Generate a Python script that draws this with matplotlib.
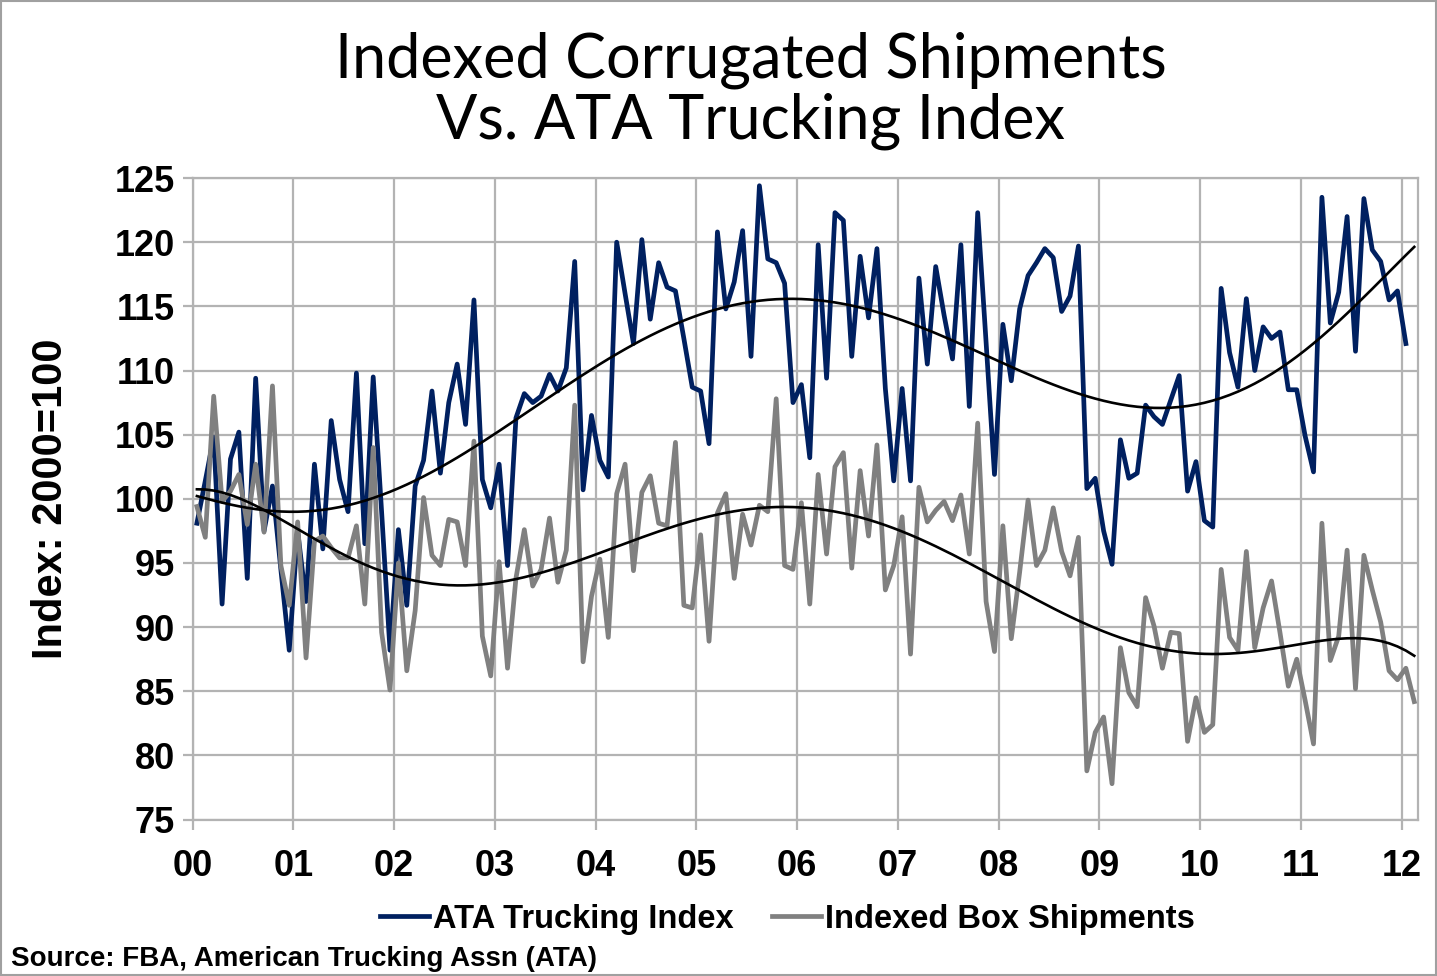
import numpy as np
import matplotlib
matplotlib.use("Agg")
import matplotlib.pyplot as plt
from matplotlib.lines import Line2D
from matplotlib.patches import Rectangle

# monthly index values, Jan 2000 onward (2000=100)
ata_trucking = [
    98.1, 101.4, 104.8, 91.8, 103.1, 105.2, 93.8, 109.4, 97.5, 101.0, 94.5, 88.2,
    97.5, 92.0, 102.7, 96.1, 106.1, 101.5, 99.0, 109.8, 96.5, 109.5, 99.0, 88.2,
    97.6, 91.7, 101.0, 103.0, 108.4, 102.0, 107.5, 110.5, 105.8, 115.5, 101.5, 99.3,
    102.7, 94.8, 106.3, 108.2, 107.5, 108.0, 109.7, 108.4, 110.2, 118.5, 100.7, 106.5,
    103.0, 101.7, 120.0, 116.0, 112.1, 120.2, 114.0, 118.4, 116.5, 116.2, 112.5, 108.7,
    108.4, 104.3, 120.8, 114.8, 116.9, 120.9, 111.1, 124.4, 118.7, 118.4, 116.8, 107.5,
    108.9, 103.2, 119.8, 109.4, 122.3, 121.7, 111.1, 118.9, 114.1, 119.5, 108.6, 101.4,
    108.6, 101.4, 117.2, 110.5, 118.1, 114.3, 110.9, 119.8, 107.2, 122.3, 112.2, 101.9,
    113.6, 109.2, 114.8, 117.4, 118.4, 119.5, 118.8, 114.6, 115.8, 119.7, 100.8, 101.6,
    97.5, 94.9, 104.6, 101.6, 102.0, 107.3, 106.4, 105.8, 107.7, 109.6, 100.6, 102.9,
    98.3, 97.8, 116.4, 111.4, 108.7, 115.6, 110.0, 113.4, 112.5, 113.0, 108.5, 108.5,
    104.9, 102.1, 123.5, 113.7, 116.1, 122.0, 111.5, 123.4, 119.4, 118.5, 115.5, 116.2,
    112.1,
]
box_shipments = [
    99.4, 97.0, 108.0, 99.8, 100.6, 101.9, 98.0, 102.7, 97.4, 108.8, 94.8, 91.7,
    98.2, 87.6, 96.7, 97.1, 96.2, 95.4, 95.4, 97.9, 91.8, 104.0, 89.6, 85.1,
    95.0, 86.6, 91.3, 100.1, 95.6, 94.8, 98.4, 98.2, 94.8, 104.5, 89.3, 86.2,
    95.1, 86.8, 93.8, 97.6, 93.2, 94.5, 98.5, 93.5, 96.0, 107.3, 87.3, 92.4,
    95.3, 89.2, 100.4, 102.7, 94.4, 100.5, 101.8, 98.1, 97.9, 104.4, 91.7, 91.5,
    97.2, 88.9, 98.9, 100.4, 93.8, 98.8, 96.4, 99.5, 99.0, 107.8, 94.8, 94.5,
    99.7, 91.8, 101.9, 95.7, 102.5, 103.6, 94.6, 102.2, 97.1, 104.2, 92.9, 94.8,
    98.6, 87.9, 100.9, 98.2, 99.1, 99.8, 98.3, 100.3, 95.7, 105.9, 92.0, 88.1,
    97.9, 89.1, 94.3, 99.9, 94.8, 96.0, 99.3, 95.9, 94.0, 97.0, 78.8, 81.8,
    83.0, 77.8, 88.4, 84.9, 83.8, 92.3, 90.1, 86.8, 89.6, 89.5, 81.1, 84.5,
    81.8, 82.4, 94.5, 89.2, 88.2, 95.9, 88.4, 91.5, 93.6, 89.6, 85.4, 87.5,
    84.3, 80.9, 98.1, 87.4, 89.3, 96.0, 85.2, 95.6, 92.9, 90.4, 86.6, 85.9,
    86.8, 84.2,
]
year_labels = ["00", "01", "02", "03", "04", "05", "06", "07", "08", "09", "10", "11", "12"]
y_ticks = [75, 80, 85, 90, 95, 100, 105, 110, 115, 120, 125]

NAVY = "#002060"
GRAY = "#808080"
GRID = "#b3b3b3"

n_months = len(box_shipments)
t_box = 2000 + (np.arange(n_months) + 0.5) / 12
t_ata = t_box[:len(ata_trucking)]


def poly_trend(t, y, t_eval, order=6):
    # 6th order polynomial trendline, like the spreadsheet one
    s = (t - 2006) / 6
    coef = np.polyfit(s, y, order)
    return np.polyval(coef, (t_eval - 2006) / 6)


plt.rcParams["font.family"] = ["Liberation Sans", "DejaVu Sans"]
fig = plt.figure(figsize=(14.37, 9.76), dpi=100)
ax = fig.add_axes([0.1341, 0.1602, 0.8530, 0.6574])

ax.plot(t_ata, ata_trucking, color=NAVY, lw=3.4, solid_joinstyle="round", zorder=3)
ax.plot(t_box, box_shipments, color=GRAY, lw=3.4, solid_joinstyle="round", zorder=3)

ax.plot(t_box, poly_trend(t_ata, np.array(ata_trucking), t_box), color="black", lw=1.9, zorder=4)
ax.plot(t_box, poly_trend(t_box, np.array(box_shipments), t_box), color="black", lw=1.9, zorder=4)

ax.set_xlim(2000, 2000 + n_months / 12)
ax.set_ylim(75, 125)
ax.set_xticks(np.arange(2000, 2013))
ax.set_xticklabels(year_labels)
ax.set_yticks(y_ticks)
ax.grid(True, color=GRID, lw=1.6)
ax.set_axisbelow(True)
for sp in ax.spines.values():
    sp.set_color(GRID)
    sp.set_linewidth(1.6)
ax.tick_params(axis="both", colors=GRID, length=7, width=1.6, direction="out")
ax.tick_params(axis="x", labelsize=26, labelcolor="black", pad=14)
ax.tick_params(axis="y", labelsize=26, labelcolor="black", pad=6)
for lab in ax.get_xticklabels() + ax.get_yticklabels():
    lab.set_fontweight("bold")

ax.set_ylabel("Index: 2000=100", fontsize=30, fontweight="bold")
ax.yaxis.set_label_coords(-0.0995, 0.5)

fig.text(0.5225, 0.907, "Indexed Corrugated Shipments\nVs. ATA Trucking Index",
         ha="center", va="center", fontsize=44, family=["Lato", "DejaVu Sans"],
         linespacing=1.08)

handles = [Line2D([], [], color=NAVY, lw=3.4), Line2D([], [], color=GRAY, lw=3.4)]
fig.legend(handles, ["ATA Trucking Index", "Indexed Box Shipments"], loc="center",
           bbox_to_anchor=(0.548, 0.058), ncol=2, frameon=False, handlelength=1.5,
           handletextpad=0.1, columnspacing=1.2, prop={"size": 23.5, "weight": "bold"})

fig.text(0.008, 0.0105, "Source: FBA, American Trucking Assn (ATA)", fontsize=20,
         fontweight="bold", ha="left", va="baseline")

fig.patches.append(Rectangle((0.001, 0.001), 0.998, 0.998, transform=fig.transFigure,
                             fill=False, edgecolor="#a0a0a0", lw=1.5))

fig.savefig("out.png", dpi=100)
